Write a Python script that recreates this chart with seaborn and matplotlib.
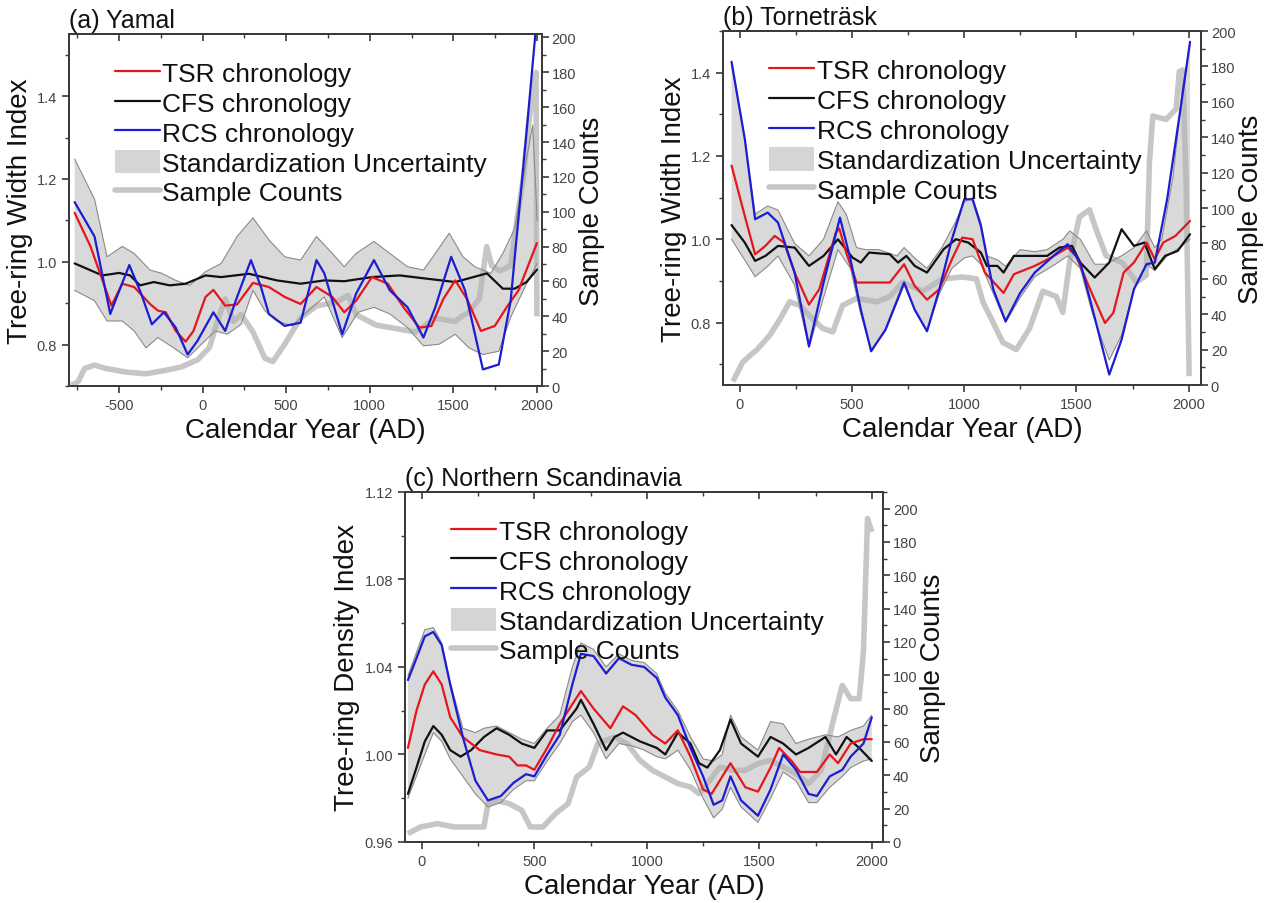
import numpy as np
import matplotlib
matplotlib.use("Agg")
import matplotlib.pyplot as plt
from matplotlib.lines import Line2D
from matplotlib.patches import Patch
from matplotlib.ticker import MultipleLocator, FormatStrFormatter
import seaborn as sns

sns.set_theme(style="ticks")
plt.rcParams['font.family'] = ['Liberation Sans', 'DejaVu Sans']
plt.rcParams['axes.unicode_minus'] = False
plt.rcParams['text.color'] = '#111111'
plt.rcParams['axes.labelcolor'] = '#111111'

# ---------------- (a) Yamal ----------------
a_tsr_year = [-766, -671, -546, -481, -410, -315, -268, -220, -161, -102, -55, 17, 64, 135, 206, 301, 396, 491,
              586, 681, 776, 847, 918, 1013, 1108, 1202, 1297, 1369, 1440, 1511, 1582, 1665, 1748, 1819, 1890, 2000]
a_tsr = [1.118, 1.037, 0.894, 0.947, 0.939, 0.898, 0.882, 0.878, 0.833, 0.807, 0.833, 0.915, 0.932, 0.894, 0.897,
         0.949, 0.939, 0.915, 0.898, 0.939, 0.915, 0.878, 0.906, 0.963, 0.947, 0.890, 0.841, 0.845, 0.910, 0.955,
         0.910, 0.833, 0.845, 0.890, 0.931, 1.045]

a_cfs_year = [-766, -600, -500, -434, -375, -292, -197, -102, 17, 111, 277, 444, 586, 728, 847, 1013, 1179, 1345,
              1511, 1701, 1796, 1867, 1938, 2000]
a_cfs = [0.996, 0.967, 0.973, 0.967, 0.943, 0.951, 0.943, 0.947, 0.967, 0.963, 0.971, 0.955, 0.947, 0.955, 0.953,
         0.963, 0.967, 0.959, 0.951, 0.972, 0.935, 0.935, 0.951, 0.981]

a_rcs_year = [-766, -647, -553, -506, -439, -368, -304, -232, -161, -90, -31, 64, 135, 206, 289, 349, 396, 491, 586,
              681, 728, 835, 918, 1025, 1120, 1226, 1321, 1392, 1487, 1570, 1677, 1772, 1843, 1938, 2002]
a_rcs = [1.144, 1.061, 0.874, 0.923, 0.992, 0.923, 0.849, 0.878, 0.841, 0.776, 0.809, 0.878, 0.833, 0.915, 1.004,
         0.939, 0.874, 0.845, 0.853, 1.004, 0.972, 0.825, 0.923, 1.004, 0.931, 0.890, 0.817, 0.890, 1.012, 0.931,
         0.740, 0.752, 0.906, 1.313, 1.60]

a_up_year = [-766, -647, -572, -481, -410, -315, -244, -161, -78, 17, 111, 206, 301, 396, 491, 586, 681, 776, 847,
             918, 1025, 1120, 1226, 1321, 1392, 1475, 1558, 1629, 1724, 1796, 1867, 1938, 1975, 2002]
a_up = [1.248, 1.151, 1.012, 1.037, 1.020, 0.980, 0.972, 0.955, 0.943, 0.976, 0.996, 1.061, 1.106, 1.053, 1.012,
        1.004, 1.061, 1.020, 0.988, 1.020, 1.049, 1.020, 0.988, 0.980, 1.020, 1.069, 1.012, 0.988, 0.972, 1.020,
        1.08, 1.25, 1.33, 1.10]
a_lo_year = [-766, -647, -572, -481, -410, -339, -268, -173, -90, -7, 76, 147, 230, 301, 372, 443, 538, 633, 728,
             835, 930, 1025, 1120, 1226, 1321, 1416, 1511, 1594, 1677, 1772, 1843, 1938, 2002]
a_lo = [0.931, 0.906, 0.857, 0.857, 0.833, 0.792, 0.817, 0.792, 0.768, 0.801, 0.833, 0.825, 0.849, 0.931, 0.882,
        0.857, 0.845, 0.882, 0.915, 0.817, 0.878, 0.890, 0.874, 0.841, 0.797, 0.801, 0.825, 0.792, 0.776, 0.784,
        0.866, 0.947, 0.996]

a_cnt_year = [-790, -766, -742, -707, -647, -576, -458, -339, -221, -126, -31, 40, 88, 135, 183, 230, 301, 372, 420,
              491, 586, 681, 799, 871, 918, 1037, 1155, 1274, 1392, 1511, 1550, 1590, 1655, 1700, 1730, 1780, 1843,
              1880, 1920, 1950, 1985, 1995, 2000]
a_cnt = [1, 1, 3, 10, 12, 10, 8, 7, 9, 11, 15, 22, 37, 50, 37, 41, 31, 16, 14, 24, 39, 46, 48, 52, 41, 35, 33, 31,
         39, 37, 40, 42, 50, 80, 69, 66, 69, 95, 120, 150, 175, 180, 40]

# ---------------- (b) Tornetrask ----------------
b_tsr_year = [-37, 22, 68, 114, 155, 197, 244, 308, 354, 428, 443, 474, 520, 594, 668, 732, 779, 834, 889, 945, 991,
              1037, 1092, 1175, 1221, 1314, 1387, 1461, 1498, 1554, 1627, 1664, 1710, 1756, 1812, 1849, 1886, 1941,
              2006]
b_tsr = [1.177, 1.056, 0.964, 0.984, 1.008, 0.992, 0.920, 0.843, 0.880, 1.016, 1.026, 0.968, 0.896, 0.896, 0.896,
         0.940, 0.888, 0.855, 0.880, 0.952, 1.004, 1.0, 0.920, 0.871, 0.916, 0.936, 0.956, 0.980, 0.960, 0.888,
         0.799, 0.823, 0.920, 0.944, 0.992, 0.952, 0.992, 1.008, 1.044]

b_cfs_year = [-37, 22, 68, 114, 170, 244, 308, 373, 437, 502, 539, 576, 668, 705, 742, 779, 834, 908, 963, 1018,
              1074, 1101, 1148, 1175, 1221, 1314, 1369, 1424, 1480, 1517, 1581, 1646, 1701, 1756, 1803, 1849, 1895,
              1951, 2006]
b_cfs = [1.034, 0.992, 0.948, 0.960, 0.984, 0.980, 0.936, 0.960, 1.0, 0.956, 0.944, 0.968, 0.964, 0.944, 0.960,
         0.936, 0.920, 0.976, 1.0, 0.992, 0.968, 0.936, 0.936, 0.920, 0.960, 0.960, 0.960, 0.980, 0.984, 0.944,
         0.908, 0.944, 1.024, 0.984, 0.992, 0.928, 0.960, 0.972, 1.012]

b_rcs_year = [-37, 22, 68, 124, 170, 244, 308, 373, 446, 493, 539, 585, 649, 732, 779, 834, 889, 945, 1000, 1037,
              1074, 1129, 1184, 1249, 1314, 1406, 1461, 1517, 1572, 1646, 1701, 1756, 1812, 1849, 1904, 1959, 2006]
b_rcs = [1.426, 1.241, 1.048, 1.064, 1.040, 0.920, 0.743, 0.896, 1.052, 0.952, 0.831, 0.731, 0.783, 0.896, 0.831,
         0.779, 0.880, 1.0, 1.096, 1.096, 1.032, 0.880, 0.803, 0.871, 0.920, 0.964, 0.988, 0.944, 0.831, 0.675,
         0.759, 0.880, 0.940, 0.944, 1.096, 1.297, 1.474]

b_up_year = [-37, 22, 68, 124, 170, 244, 308, 373, 437, 474, 520, 560, 620, 700, 732, 779, 834, 900, 960, 1000, 1037,
             1074, 1101, 1150, 1184, 1249, 1314, 1369, 1440, 1470, 1517, 1581, 1630, 1700, 1756, 1812, 1849, 1880,
             1930, 1970, 2006]
b_up = [1.42, 1.24, 1.06, 1.08, 1.07, 0.99, 0.96, 1.0, 1.09, 1.06, 0.98, 0.975, 0.975, 0.96, 0.98, 0.955, 0.93, 0.98,
        1.04, 1.09, 1.10, 1.04, 0.96, 0.95, 0.935, 0.975, 0.97, 0.975, 1.0, 1.02, 1.0, 0.94, 0.94, 0.96, 0.98, 1.02,
        0.98, 1.0, 1.15, 1.35, 1.47]
b_lo_year = [-37, 22, 68, 124, 170, 244, 308, 373, 437, 493, 539, 585, 649, 732, 779, 834, 889, 945, 1000, 1037,
             1074, 1129, 1184, 1249, 1314, 1406, 1461, 1517, 1572, 1646, 1701, 1756, 1812, 1849, 1904, 1959, 2006]
b_lo = [1.0, 0.95, 0.91, 0.935, 0.96, 0.89, 0.74, 0.86, 0.975, 0.93, 0.82, 0.735, 0.78, 0.89, 0.83, 0.78, 0.87, 0.93,
        0.955, 0.96, 0.94, 0.87, 0.80, 0.86, 0.91, 0.94, 0.96, 0.93, 0.82, 0.71, 0.77, 0.88, 0.94, 0.925, 0.96,
        0.98, 1.0]

b_cnt_year = [-31, 13, 76, 133, 178, 222, 267, 311, 369, 414, 458, 521, 610, 668, 725, 815, 904, 993, 1054, 1083,
              1126, 1172, 1232, 1291, 1350, 1410, 1439, 1469, 1513, 1558, 1587, 1632, 1705, 1767, 1811, 1825, 1840,
              1899, 1944, 1958, 1973, 1988, 2002]
b_cnt = [2, 13, 20, 28, 37, 47, 45, 39, 32, 30, 45, 49, 47, 50, 58, 53, 60, 61, 60, 47, 36, 24, 20, 32, 53, 50, 41,
         69, 95, 99, 88, 73, 69, 58, 62, 126, 152, 150, 156, 177, 178, 116, 5]

# ---------------- (c) Northern Scandinavia ----------------
c_tsr_year = [-62, -24, 13, 51, 88, 126, 182, 257, 332, 388, 425, 463, 500, 557, 613, 669, 707, 763, 838, 894, 950,
              1025, 1082, 1138, 1194, 1250, 1288, 1372, 1438, 1494, 1550, 1588, 1644, 1681, 1756, 1813, 1850, 1906,
              1963, 2000]
c_tsr = [1.003, 1.020, 1.032, 1.038, 1.032, 1.017, 1.008, 1.002, 1.000, 0.999, 0.995, 0.995, 0.993, 1.003, 1.014,
         1.023, 1.029, 1.021, 1.012, 1.022, 1.018, 1.009, 1.005, 1.011, 0.999, 0.984, 0.982, 0.996, 0.985, 0.983,
         0.994, 1.003, 0.997, 0.992, 0.992, 1.000, 0.996, 1.005, 1.007, 1.007]

c_cfs_year = [-62, -24, 13, 51, 88, 126, 172, 219, 276, 332, 388, 444, 500, 557, 613, 688, 707, 763, 819, 857, 894,
              969, 1044, 1082, 1138, 1194, 1232, 1269, 1325, 1372, 1419, 1494, 1550, 1606, 1663, 1719, 1794, 1841,
              1888, 1944, 2000]
c_cfs = [0.982, 0.994, 1.006, 1.013, 1.009, 1.002, 0.999, 1.002, 1.008, 1.012, 1.009, 1.005, 1.003, 1.011, 1.011,
         1.021, 1.025, 1.014, 1.002, 1.008, 1.010, 1.006, 1.003, 1.000, 1.010, 1.005, 0.996, 0.994, 1.002, 1.016,
         1.005, 0.999, 1.008, 1.005, 1.000, 1.003, 1.008, 1.000, 1.008, 1.003, 0.997]

c_rcs_year = [-62, -24, 13, 51, 88, 126, 182, 238, 294, 351, 407, 463, 500, 557, 613, 669, 707, 763, 819, 876, 932,
              988, 1044, 1082, 1138, 1194, 1250, 1297, 1335, 1372, 1419, 1494, 1550, 1606, 1663, 1719, 1756, 1813,
              1869, 1906, 1963, 2000]
c_rcs = [1.034, 1.044, 1.054, 1.056, 1.050, 1.032, 1.008, 0.988, 0.979, 0.981, 0.987, 0.991, 0.990, 1.000, 1.009,
         1.032, 1.046, 1.045, 1.037, 1.044, 1.041, 1.040, 1.035, 1.026, 1.018, 1.003, 0.990, 0.977, 0.979, 0.990,
         0.979, 0.972, 0.984, 1.000, 0.993, 0.982, 0.981, 0.990, 0.993, 0.999, 1.005, 1.017]

c_up_year = [-62, 13, 51, 88, 126, 182, 238, 276, 332, 388, 444, 500, 557, 613, 669, 707, 763, 819, 876, 932, 988,
             1044, 1082, 1138, 1194, 1250, 1297, 1335, 1372, 1419, 1494, 1550, 1606, 1663, 1719, 1794, 1850, 1906,
             1963, 2000]
c_up = [1.036, 1.057, 1.058, 1.051, 1.033, 1.012, 1.010, 1.012, 1.013, 1.010, 1.007, 1.005, 1.012, 1.018, 1.040,
        1.051, 1.048, 1.040, 1.046, 1.043, 1.042, 1.037, 1.028, 1.020, 1.008, 0.998, 0.997, 1.000, 1.018, 1.008,
        1.002, 1.015, 1.014, 1.005, 1.007, 1.009, 1.008, 1.011, 1.013, 1.018]
c_lo_year = [-62, 13, 51, 88, 126, 182, 238, 294, 351, 407, 463, 500, 557, 613, 669, 707, 763, 819, 876, 932, 988,
             1044, 1082, 1138, 1194, 1250, 1297, 1335, 1372, 1419, 1494, 1550, 1606, 1663, 1719, 1756, 1813, 1869,
             1906, 1963, 2000]
c_lo = [0.980, 1.000, 1.010, 1.006, 0.998, 0.990, 0.982, 0.976, 0.978, 0.984, 0.988, 0.988, 0.997, 1.005, 1.015,
        1.018, 1.010, 0.998, 1.005, 1.004, 1.002, 0.999, 0.998, 1.002, 0.993, 0.980, 0.971, 0.975, 0.985, 0.976,
        0.969, 0.980, 0.992, 0.988, 0.978, 0.978, 0.985, 0.990, 0.994, 0.997, 0.998]

c_cnt_year = [-62, -6, 69, 144, 219, 276, 294, 332, 388, 444, 482, 538, 594, 650, 688, 744, 782, 819, 857, 913, 969,
              1025, 1082, 1138, 1194, 1232, 1269, 1325, 1382, 1438, 1494, 1550, 1606, 1663, 1719, 1775, 1831, 1869,
              1906, 1944, 1963, 1981, 2000]
c_cnt = [5, 9, 11, 9, 9, 9, 23, 25, 23, 19, 9, 9, 17, 23, 39, 45, 59, 61, 63, 59, 49, 43, 39, 35, 33, 29, 35, 45, 43,
         43, 47, 49, 45, 41, 35, 43, 74, 94, 86, 86, 114, 194, 186]

RED = '#e3171d'
BLACK = '#111111'
BLUE = '#1c1cd2'
BAND = '#b4b4b4'
CNT = '#c6c6c6'
SPINE = '#3a3a3a'
TICKC = '#444444'

panels = [
    dict(title='(a) Yamal', pos=[0.0543, 0.5719, 0.3724, 0.3894], xlim=(-800, 2030), ylim=(0.7, 1.55),
         ymaj=0.2, ymin=0.1, yfmt='%.1f', xmaj=[-500, 0, 500, 1000, 1500, 2000], ylab='Tree-ring Width Index',
         clim=(0, 202),
         tsr=(a_tsr_year, a_tsr), cfs=(a_cfs_year, a_cfs), rcs=(a_rcs_year, a_rcs),
         up=(a_up_year, a_up), lo=(a_lo_year, a_lo), cnt=(a_cnt_year, a_cnt)),
    dict(title='(b) Torneträsk', pos=[0.5693, 0.5730, 0.3764, 0.3916], xlim=(-75, 2055), ylim=(0.65, 1.5),
         ymaj=0.2, ymin=0.1, yfmt='%.1f', xmaj=[0, 500, 1000, 1500, 2000], ylab='Tree-ring Width Index',
         clim=(0, 200),
         tsr=(b_tsr_year, b_tsr), cfs=(b_cfs_year, b_cfs), rcs=(b_rcs_year, b_rcs),
         up=(b_up_year, b_up), lo=(b_lo_year, b_lo), cnt=(b_cnt_year, b_cnt)),
    dict(title='(c) Northern Scandinavia', pos=[0.3189, 0.0675, 0.3764, 0.3872], xlim=(-75, 2050),
         ylim=(0.96, 1.12), ymaj=0.04, ymin=0.02, yfmt='%.2f', xmaj=[0, 500, 1000, 1500, 2000],
         ylab='Tree-ring Density Index', clim=(0, 210),
         tsr=(c_tsr_year, c_tsr), cfs=(c_cfs_year, c_cfs), rcs=(c_rcs_year, c_rcs),
         up=(c_up_year, c_up), lo=(c_lo_year, c_lo), cnt=(c_cnt_year, c_cnt)),
]

fig = plt.figure(figsize=(12.7, 9.04), dpi=100)

for p in panels:
    ax = fig.add_axes(p['pos'])
    ax2 = ax.twinx()
    # counts behind, chronologies in front
    ax.set_zorder(ax2.get_zorder() + 1)
    ax.patch.set_visible(False)

    sns.lineplot(x=p['cnt'][0], y=p['cnt'][1], ax=ax2, color=CNT, lw=4, solid_capstyle='butt')

    ux, uy = p['up']
    lx, ly = p['lo']
    ax.fill(np.concatenate([ux, lx[::-1]]), np.concatenate([uy, ly[::-1]]),
            facecolor=BAND, alpha=0.5, edgecolor='none')
    sns.lineplot(x=ux, y=uy, ax=ax, color='#8a8a8a', lw=0.8)
    sns.lineplot(x=lx, y=ly, ax=ax, color='#8a8a8a', lw=0.8)

    sns.lineplot(x=p['cfs'][0], y=p['cfs'][1], ax=ax, color=BLACK, lw=1.6)
    sns.lineplot(x=p['tsr'][0], y=p['tsr'][1], ax=ax, color=RED, lw=1.6)
    sns.lineplot(x=p['rcs'][0], y=p['rcs'][1], ax=ax, color=BLUE, lw=1.6)

    ax.set_xlim(*p['xlim'])
    ax.set_ylim(*p['ylim'])
    ax2.set_ylim(*p['clim'])
    ax.set_xticks(p['xmaj'])
    ax.xaxis.set_minor_locator(MultipleLocator(250))
    ax.yaxis.set_major_locator(MultipleLocator(p['ymaj']))
    ax.yaxis.set_minor_locator(MultipleLocator(p['ymin']))
    ax.yaxis.set_major_formatter(FormatStrFormatter(p['yfmt']))
    ax2.yaxis.set_major_locator(MultipleLocator(20))
    ax2.yaxis.set_minor_locator(MultipleLocator(10))

    for a in (ax, ax2):
        for s in a.spines.values():
            s.set_visible(True)
            s.set_color(SPINE)
            s.set_linewidth(1.3)
    ax.tick_params(which='major', direction='out', length=5, width=1.2, color=SPINE,
                   labelsize=10.5, labelcolor=TICKC)
    ax.tick_params(which='minor', direction='out', length=3, width=1.0, color=SPINE)
    ax2.tick_params(which='major', direction='out', length=5, width=1.2, color=SPINE,
                    labelsize=10.5, labelcolor=TICKC, pad=2)
    ax2.tick_params(which='minor', direction='out', length=3, width=1.0, color=SPINE)

    top = ax.secondary_xaxis('top')
    top.set_xticks(p['xmaj'])
    top.xaxis.set_minor_locator(MultipleLocator(250))
    top.tick_params(which='both', direction='in', labeltop=False, color=SPINE)
    top.tick_params(which='major', length=5, width=1.2)
    top.tick_params(which='minor', length=3, width=1.0)
    top.spines['top'].set_color(SPINE)
    top.spines['top'].set_linewidth(1.3)

    ax.set_xlabel('Calendar Year (AD)', fontsize=20, labelpad=4)
    ax.set_ylabel(p['ylab'], fontsize=20, labelpad=3)
    ax2.set_ylabel('Sample Counts', fontsize=20, labelpad=2)
    ax.text(0.0, 1.005, p['title'], transform=ax.transAxes, fontsize=18, ha='left', va='bottom')

    handles = [Line2D([], [], color=RED, lw=1.6),
               Line2D([], [], color=BLACK, lw=1.6),
               Line2D([], [], color=BLUE, lw=1.6),
               Patch(facecolor='#d5d5d5', edgecolor='none'),
               Line2D([], [], color=CNT, lw=4)]
    labels = ['TSR chronology', 'CFS chronology', 'RCS chronology', 'Standardization Uncertainty', 'Sample Counts']
    leg = ax.legend(handles, labels, loc='upper left', bbox_to_anchor=(0.075, 0.955), frameon=False,
                    fontsize=19, handlelength=1.7, handleheight=1.0, handletextpad=0.1, labelspacing=0.15,
                    borderaxespad=0.0)
    leg.set_zorder(10)

fig.savefig('out.png', dpi=100)
